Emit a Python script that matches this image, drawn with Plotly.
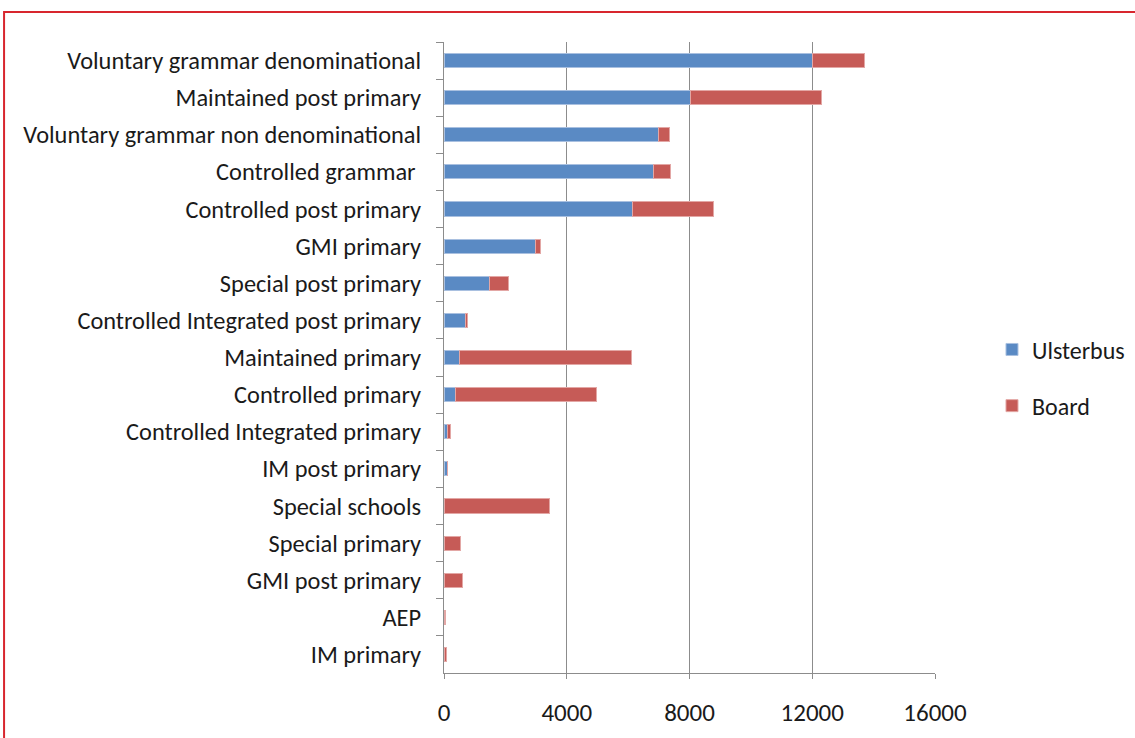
import plotly.graph_objects as go

categories = [
    "Voluntary grammar denominational",
    "Maintained post primary",
    "Voluntary grammar non denominational",
    "Controlled grammar\u00a0",
    "Controlled post primary",
    "GMI primary",
    "Special post primary",
    "Controlled Integrated post primary",
    "Maintained primary",
    "Controlled primary",
    "Controlled Integrated primary",
    "IM post primary",
    "Special schools",
    "Special primary",
    "GMI post primary",
    "AEP",
    "IM primary",
]
ulsterbus = [12000, 8030, 6980, 6830, 6150, 2970, 1490, 700, 510, 360, 100, 100, 0, 0, 0, 0, 0]
board = [1700, 4280, 370, 560, 2640, 180, 600, 70, 5590, 4600, 110, 30, 3450, 540, 590, 45, 90]

x_ticks = [0, 4000, 8000, 12000, 16000]

FONT = "Carlito, 'Liberation Sans Narrow', 'Open Sans', sans-serif"

fig = go.Figure()
fig.add_trace(go.Bar(
    y=categories, x=ulsterbus, orientation="h", name="Ulsterbus",
    legendgroup="u",
    marker=dict(color="#5A8AC4", line=dict(color="#A9C0E0", width=1)),
))
fig.add_trace(go.Bar(
    y=categories, x=board, orientation="h", name="Board",
    legendgroup="b",
    marker=dict(color="#C65B57", line=dict(color="#E3A7A5", width=1)),
))

fig.update_layout(
    barmode="stack",
    bargap=0.62,
    width=1135, height=738,
    margin=dict(l=444, r=200, t=42, b=65, autoexpand=False),
    paper_bgcolor="white",
    plot_bgcolor="white",
    font=dict(family=FONT, size=24, color="#1a1a1a"),
    legend=dict(
        xref="container", yref="container",
        x=0.874, y=0.488, xanchor="left", yanchor="middle",
        traceorder="grouped", tracegroupgap=22,
        font=dict(family=FONT, size=24, color="#1a1a1a"),
        itemwidth=30,
        bgcolor="rgba(0,0,0,0)",
    ),
    xaxis=dict(
        range=[0, 16000],
        tickvals=x_ticks,
        ticktext=[str(v) for v in x_ticks],
        showgrid=True, gridcolor="#8c8c8c", gridwidth=1,
        zeroline=False,
        showline=True, linecolor="#8c8c8c", linewidth=1,
        ticks="outside", ticklen=5, tickcolor="#8c8c8c",
        ticklabelstandoff=12,
        tickfont=dict(family=FONT, size=25),
    ),
    yaxis=dict(
        autorange="reversed",
        showline=True, linecolor="#8c8c8c", linewidth=1,
        ticks="outside", ticklen=7, tickcolor="#8c8c8c",
        tickson="boundaries",
        ticklabelstandoff=17,
        showgrid=False,
        tickfont=dict(family=FONT, size=24.4),
    ),
    shapes=[dict(
        type="rect", xref="paper", yref="paper",
        x0=-0.896, x1=1.43, y0=-0.13, y1=1.0475,
        line=dict(color="#D8262E", width=2),
        fillcolor="rgba(0,0,0,0)", layer="below",
    )],
)

fig.write_html("out.html")
